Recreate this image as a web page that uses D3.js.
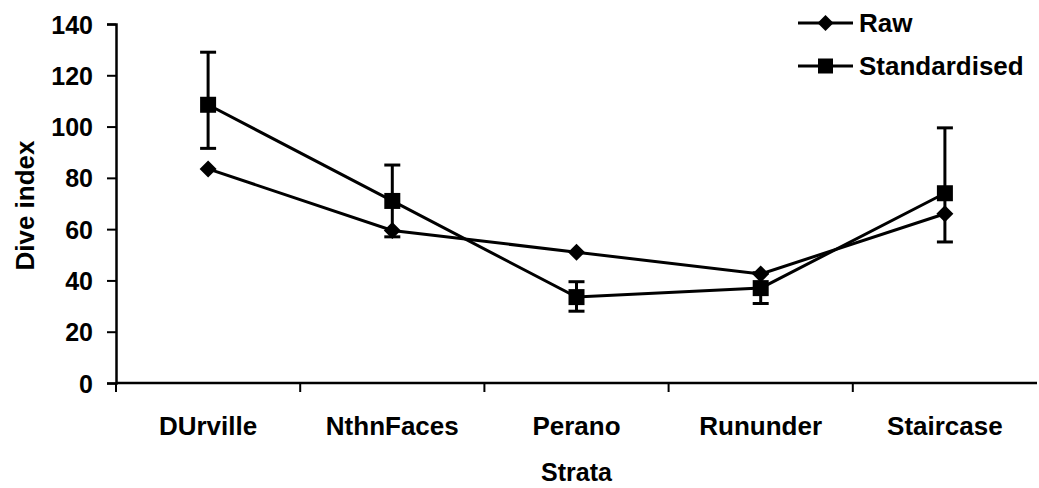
<!DOCTYPE html>
<html>
<head>
<meta charset="utf-8">
<script src="https://cdn.jsdelivr.net/npm/d3@7"></script>
<style>
  body { margin: 0; background: #fff; }
  svg text { font-family: "Liberation Sans", Arial, sans-serif; font-weight: bold; fill: #000; }
</style>
</head>
<body>
<svg id="chart"></svg>
<script>
// data
const categories = ["DUrville", "NthnFaces", "Perano", "Rununder", "Staircase"];
const rawValues = [83.5, 59.5, 51, 42.5, 66];
const stdValues = [108.5, 71, 33.5, 37, 74];
const stdUpper = [129, 85, 39.5, 43, 99.5];
const stdLower = [91.5, 57, 28, 31, 55];
const yTicks = [0, 20, 40, 60, 80, 100, 120, 140];

const width = 1039;
const height = 488;
const margin = { top: 24, right: 2, bottom: 105, left: 116 };

const svg = d3.select("#chart")
  .attr("width", width)
  .attr("height", height);

const x = d3.scaleBand()
  .domain(categories)
  .range([margin.left, width - margin.right]);

const y = d3.scaleLinear()
  .domain([0, 140])
  .range([height - margin.bottom, margin.top]);

const cx = d => x(d) + x.bandwidth() / 2;

// y axis
const yAxis = svg.append("g")
  .attr("transform", `translate(${margin.left},0)`)
  .call(d3.axisLeft(y).tickValues(yTicks).tickSize(9).tickPadding(14));
yAxis.select(".domain").attr("stroke", "#000").attr("stroke-width", 2.5);
yAxis.selectAll(".tick line").attr("stroke", "#000").attr("stroke-width", 2);
yAxis.selectAll(".tick text")
  .style("font-size", "25px")
  .attr("dy", "0.36em")
  .attr("fill", "#000");

// x axis with ticks between categories
const xAxisY = y(0);
svg.append("line")
  .attr("x1", margin.left).attr("x2", width - margin.right)
  .attr("y1", xAxisY).attr("y2", xAxisY)
  .attr("stroke", "#000").attr("stroke-width", 2.5);

const boundaries = categories.map(c => x(c));
svg.selectAll(".xtick")
  .data(boundaries)
  .join("line")
  .attr("class", "xtick")
  .attr("x1", d => d).attr("x2", d => d)
  .attr("y1", xAxisY).attr("y2", xAxisY + 9)
  .attr("stroke", "#000").attr("stroke-width", 2);

svg.selectAll(".xlabel")
  .data(categories)
  .join("text")
  .attr("class", "xlabel")
  .attr("x", d => cx(d))
  .attr("y", 435)
  .attr("text-anchor", "middle")
  .style("font-size", "26px")
  .text(d => d);

// axis titles
svg.append("text")
  .attr("transform", `translate(34,${(y(0) + y(140)) / 2 + 2}) rotate(-90)`)
  .attr("text-anchor", "middle")
  .style("font-size", "26px")
  .text("Dive index");

svg.append("text")
  .attr("x", cx("Perano"))
  .attr("y", 481)
  .attr("text-anchor", "middle")
  .style("font-size", "25px")
  .text("Strata");

// error bars for standardised
const capW = 8;
categories.forEach((c, i) => {
  const g = svg.append("g").attr("stroke", "#000").attr("stroke-width", 3);
  g.append("line")
    .attr("x1", cx(c)).attr("x2", cx(c))
    .attr("y1", y(stdUpper[i])).attr("y2", y(stdLower[i]));
  [stdUpper[i], stdLower[i]].forEach(v => {
    g.append("line")
      .attr("x1", cx(c) - capW).attr("x2", cx(c) + capW)
      .attr("y1", y(v)).attr("y2", y(v));
  });
});

// lines
const line = d3.line()
  .x((d, i) => cx(categories[i]))
  .y(d => y(d));

svg.append("path")
  .datum(rawValues)
  .attr("d", line)
  .attr("fill", "none")
  .attr("stroke", "#000")
  .attr("stroke-width", 3);

svg.append("path")
  .datum(stdValues)
  .attr("d", line)
  .attr("fill", "none")
  .attr("stroke", "#000")
  .attr("stroke-width", 3);

// markers
const diamond = (px, py, r) => `M${px},${py - r}L${px + r},${py}L${px},${py + r}L${px - r},${py}Z`;

svg.selectAll(".raw-pt")
  .data(rawValues)
  .join("path")
  .attr("class", "raw-pt")
  .attr("d", (d, i) => diamond(cx(categories[i]), y(d), 8.5))
  .attr("fill", "#000");

svg.selectAll(".std-pt")
  .data(stdValues)
  .join("rect")
  .attr("class", "std-pt")
  .attr("x", (d, i) => cx(categories[i]) - 8)
  .attr("y", d => y(d) - 8)
  .attr("width", 16)
  .attr("height", 16)
  .attr("fill", "#000");

// legend
const legend = [
  { label: "Raw", shape: "diamond", yy: 23 },
  { label: "Standardised", shape: "square", yy: 66 }
];
legend.forEach(l => {
  svg.append("line")
    .attr("x1", 798).attr("x2", 853)
    .attr("y1", l.yy).attr("y2", l.yy)
    .attr("stroke", "#000").attr("stroke-width", 3);
  if (l.shape === "diamond") {
    svg.append("path").attr("d", diamond(825.5, l.yy, 8)).attr("fill", "#000");
  } else {
    svg.append("rect")
      .attr("x", 818).attr("y", l.yy - 7.5)
      .attr("width", 15).attr("height", 15)
      .attr("fill", "#000");
  }
  svg.append("text")
    .attr("x", 859)
    .attr("y", l.yy + 9)
    .style("font-size", "26px")
    .text(l.label);
});
</script>
</body>
</html>
